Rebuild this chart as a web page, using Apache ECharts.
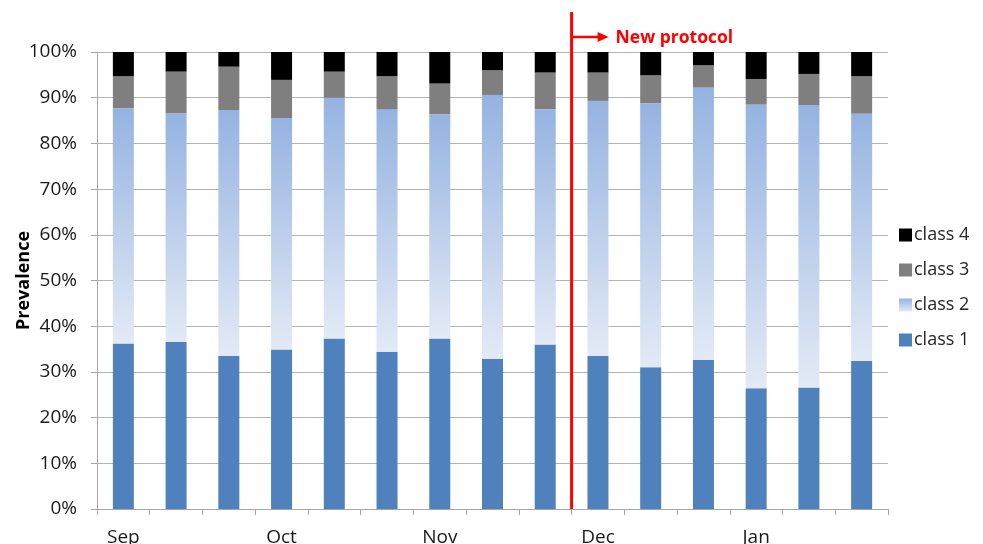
<!DOCTYPE html>
<html>
<head>
<meta charset="utf-8">
<script src="https://cdn.jsdelivr.net/npm/echarts@6/dist/echarts.min.js"></script>
<style>
html,body{margin:0;padding:0;background:#fff;}
#chart{width:983px;height:544px;}
</style>
</head>
<body>
<div id="chart"></div>
<script>
// Samples (three per month), month shown once per group
var categories = ['Sep 1','Sep 2','Sep 3','Oct 1','Oct 2','Oct 3','Nov 1','Nov 2','Nov 3','Dec 1','Dec 2','Dec 3','Jan 1','Jan 2','Jan 3'];
var class1 = [36.2, 36.6, 33.5, 34.9, 37.3, 34.4, 37.3, 32.8, 36.0, 33.5, 31.0, 32.6, 26.4, 26.6, 32.4];
var class2 = [51.5, 50.0, 53.8, 50.6, 52.7, 53.1, 49.1, 57.8, 51.5, 55.8, 57.8, 59.6, 62.1, 61.8, 54.1];
var class3 = [7.0, 9.1, 9.5, 8.4, 5.7, 7.2, 6.7, 5.4, 8.0, 6.2, 6.1, 4.9, 5.6, 6.8, 8.2];
var class4 = [5.3, 4.3, 3.2, 6.1, 4.3, 5.3, 6.9, 4.0, 4.5, 4.5, 5.1, 2.9, 5.9, 4.8, 5.3];
var yTicks = [0, 10, 20, 30, 40, 50, 60, 70, 80, 90, 100];
var protocolStartIndex = 9; // New protocol starts before this category
var annotationText = 'New protocol';

var font = 'Open Sans';
var chart = echarts.init(document.getElementById('chart'), null, {renderer: 'canvas'});

var grad2 = new echarts.graphic.LinearGradient(0, 0, 0, 1, [
  {offset: 0, color: '#95b3e1'},
  {offset: 1, color: '#e3eaf6'}
]);

var barW = 21;
var option = {
  animation: false,
  backgroundColor: '#ffffff',
  grid: {left: 97, right: 95, top: 52, bottom: 35, containLabel: false, outerBoundsMode: 'none'},
  legend: {
    orient: 'vertical',
    left: 894,
    top: 221,
    itemWidth: 13,
    itemHeight: 13,
    itemGap: 17,
    icon: 'rect',
    data: ['class 4', 'class 3', 'class 2', 'class 1'],
    textStyle: {fontFamily: font, fontSize: 18, color: '#262626', padding: [0, 0, 0, -3]}
  },
  xAxis: {
    type: 'category',
    data: categories,
    boundaryGap: true,
    axisLine: {lineStyle: {color: '#a6a6a6', width: 1}},
    axisTick: {show: true, interval: 0, length: 6, lineStyle: {color: '#a6a6a6'}},
    axisLabel: {
      interval: 2,
      margin: 19,
      fontFamily: font,
      fontSize: 19,
      color: '#1a1a1a',
      formatter: function (v) { return v.split(' ')[0]; }
    },
    splitLine: {show: false}
  },
  yAxis: {
    type: 'value',
    min: yTicks[0],
    max: yTicks[yTicks.length - 1],
    interval: yTicks[1] - yTicks[0],
    name: 'Prevalence',
    nameLocation: 'middle',
    nameGap: 64,
    nameMoveOverlap: false,
    nameRotate: 90,
    nameTextStyle: {fontFamily: font, fontSize: 18, fontWeight: 'bold', color: '#000'},
    axisLine: {show: true, lineStyle: {color: '#a6a6a6', width: 1}},
    axisTick: {show: true, length: 6, lineStyle: {color: '#a6a6a6'}},
    axisLabel: {fontFamily: font, fontSize: 19, color: '#1a1a1a', margin: 20, formatter: '{value}%'},
    splitLine: {show: true, lineStyle: {color: '#b3b3b3', width: 1}}
  },
  series: [
    {name: 'class 1', type: 'bar', stack: 'p', barWidth: barW, data: class1, itemStyle: {color: '#4f81bd'}},
    {name: 'class 2', type: 'bar', stack: 'p', barWidth: barW, data: class2, itemStyle: {color: grad2}},
    {name: 'class 3', type: 'bar', stack: 'p', barWidth: barW, data: class3, itemStyle: {color: '#7f7f7f'}},
    {name: 'class 4', type: 'bar', stack: 'p', barWidth: barW, data: class4, itemStyle: {color: '#000000'}}
  ]
};
chart.setOption(option);

// Annotation: vertical red line at the boundary before protocolStartIndex
var xa = chart.convertToPixel({xAxisIndex: 0}, protocolStartIndex - 1);
var xb = chart.convertToPixel({xAxisIndex: 0}, protocolStartIndex);
var xLine = (xa + xb) / 2;
var yBottom = chart.convertToPixel({yAxisIndex: 0}, yTicks[0]);
var yTop = chart.convertToPixel({yAxisIndex: 0}, yTicks[yTicks.length - 1]);
var lineTop = yTop - 40;
var arrowY = yTop - 15;
chart.setOption({
  graphic: [
    {type: 'line', z: 100, shape: {x1: xLine, y1: lineTop, x2: xLine, y2: yBottom},
      style: {stroke: '#ff0000', lineWidth: 3}},
    {type: 'line', z: 100, shape: {x1: xLine, y1: arrowY, x2: xLine + 28, y2: arrowY},
      style: {stroke: '#ff0000', lineWidth: 2.5}},
    {type: 'polygon', z: 100, shape: {points: [[xLine + 26, arrowY - 5], [xLine + 37, arrowY], [xLine + 26, arrowY + 5]]},
      style: {fill: '#ff0000'}},
    {type: 'text', z: 100, x: xLine + 44, y: arrowY + 1,
      style: {text: annotationText, fill: '#ff0000', font: 'bold 17.5px "' + font + '"', textVerticalAlign: 'middle', verticalAlign: 'middle'}}
  ]
});
</script>
</body>
</html>
